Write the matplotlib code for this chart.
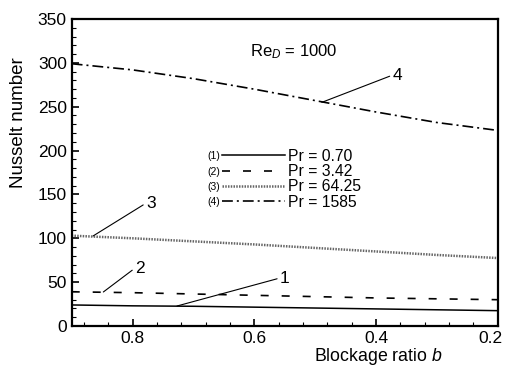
import matplotlib
matplotlib.use("Agg")
import matplotlib.pyplot as plt
from matplotlib.ticker import MultipleLocator, AutoMinorLocator
from matplotlib.transforms import ScaledTranslation

plt.rcParams['font.family'] = ['Liberation Sans', 'DejaVu Sans']
plt.rcParams['mathtext.fontset'] = 'custom'
plt.rcParams['mathtext.rm'] = 'Liberation Sans'
plt.rcParams['mathtext.it'] = 'Liberation Sans:italic'

# data
b = [0.9, 0.8, 0.7, 0.6, 0.5, 0.4, 0.3, 0.2]
nu_pr070 = [24, 23, 22.5, 21.5, 20.5, 19.5, 18.5, 17.5]
nu_pr342 = [39, 38, 36.5, 35, 33.5, 32, 31, 30]
nu_pr6425 = [103, 100, 96.5, 93, 89, 85, 81, 77.5]
nu_pr1585 = [299, 292, 282, 270, 257, 244, 232, 223]
labels = ["Pr = 0.70", "Pr = 3.42", "Pr = 64.25", "Pr = 1585"]
tags = ["(1)", "(2)", "(3)", "(4)"]
xticks = [0.8, 0.6, 0.4, 0.2]

fig = plt.figure(figsize=(5.06, 3.69), dpi=100)
ax = fig.add_axes([0.1417, 0.1165, 0.842, 0.832])

lw = 1.2
l1, = ax.plot(b, nu_pr070, color='black', lw=1.1)
l2, = ax.plot(b, nu_pr342, color='black', lw=lw, dashes=(4.8, 7.8))
l3, = ax.plot(b, nu_pr6425, color='0.4', lw=1.8, dashes=(0.6, 0.5))
l4, = ax.plot(b, nu_pr1585, color='black', lw=lw, dashes=(6.5, 2.4, 1.2, 2.4))

ax.set_xlim(0.9, 0.2)
ax.set_ylim(0, 350)
ax.set_xticks(xticks)
ax.xaxis.set_minor_locator(AutoMinorLocator(5))
ax.yaxis.set_major_locator(MultipleLocator(50))
ax.yaxis.set_minor_locator(AutoMinorLocator(5))
ax.tick_params(which='both', direction='in', top=False, right=False, labelsize=12.5)
ax.tick_params(which='major', length=5, width=1.2)
ax.tick_params(which='minor', length=3, width=0.8)
for s in ax.spines.values():
    s.set_linewidth(1.6)

ax.set_ylabel("Nusselt number", fontsize=13.5)
ax.yaxis.set_label_coords(-0.105, 0.663)
ax.set_xlabel("Blockage ratio $\\it{b}$", fontsize=12.8)
ax.xaxis.set_label_coords(0.72, -0.065)

ax.text(0.625, 0.895, "Re$_{\\it{D}}$ = 1000", transform=ax.transAxes,
        ha='right', va='center', fontsize=12)

# curve labels with leader lines
arrow = dict(arrowstyle='-', color='black', lw=0.8, shrinkA=0, shrinkB=0, relpos=(0, 0.5))
ax.annotate("4", xy=(0.489, 255), xytext=(0.373, 286), fontsize=12.5, va='center', arrowprops=arrow)
ax.annotate("3", xy=(0.865, 102.6), xytext=(0.778, 140), fontsize=12.5, va='center', arrowprops=arrow)
ax.annotate("2", xy=(0.848, 38.8), xytext=(0.796, 66), fontsize=12.5, va='center', arrowprops=arrow)
ax.annotate("1", xy=(0.727, 22.8), xytext=(0.558, 54.7), fontsize=12.5, va='center', arrowprops=arrow)

leg = ax.legend([l1, l2, l3, l4], labels, loc='upper left', bbox_to_anchor=(0.353, 0.577),
                frameon=False, fontsize=11.3, handlelength=4.0, handletextpad=0.2,
                labelspacing=0.02, borderpad=0, borderaxespad=0)

fig.canvas.draw()

# last x tick label sits a little left so it stays inside the figure
xl = ax.get_xticklabels()
xl[-1].set_transform(xl[-1].get_transform() + ScaledTranslation(-7 / 100, 0, fig.dpi_scale_trans))

# "(n)" tags in front of the legend lines
inv = ax.transAxes.inverted()
for h, t, tag in zip(leg.legend_handles, leg.get_texts(), tags):
    tb = t.get_window_extent()
    hb = h.get_window_extent()
    x0, y0 = inv.transform((hb.x0 - 2, (tb.y0 + tb.y1) / 2))
    ax.text(x0, y0, tag, transform=ax.transAxes, ha='right', va='center', fontsize=7.5)

fig.savefig("out.png", dpi=100)
